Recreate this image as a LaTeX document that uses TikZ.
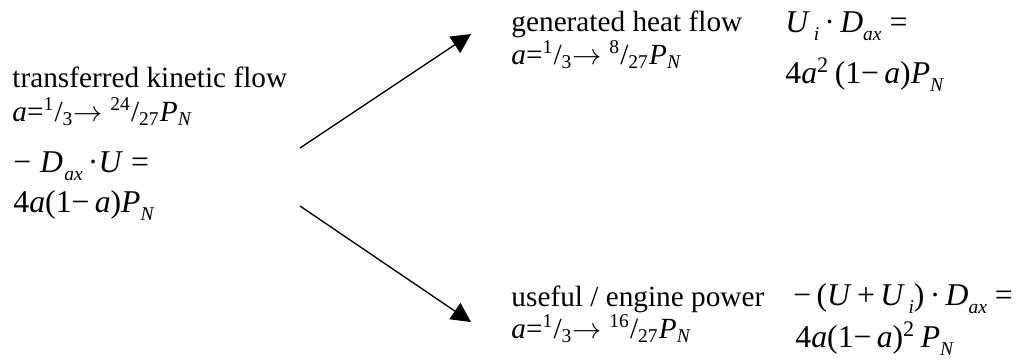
\documentclass[tikz,border=0pt]{standalone}
\usepackage{fontspec}
\setmainfont{Liberation Serif}
\usepackage{tikz}
\usetikzlibrary{arrows.meta}
\newcommand{\vi}[1]{\textit{#1}}
\newcommand{\lo}[1]{\textsubscript{\textit{#1}}}
\newcommand{\dlo}[1]{\raisebox{-0.55ex}{\fontsize{8}{8}\selectfont\textit{#1}}}
\newcommand{\frc}[2]{\textsuperscript{#1}/\textsubscript{#2}}
\newcommand{\goes}{$\rightarrow$}

\begin{document}
\begin{tikzpicture}[x=0.41pt, y=-0.41pt,
      every node/.style={inner sep=0pt, anchor=base west},
      lbl/.style={font=\fontsize{12}{14}\selectfont},
      eqn/.style={font=\fontsize{13}{15}\selectfont},
      flow/.style={-{Triangle[length=8pt, width=8pt]}, line width=0.55pt}]
    \useasboundingbox (0,0) rectangle (1023,363);

    % transferred flow (left)
    \node[lbl] at (12, 87) (src) {transferred kinetic flow};
    \node[lbl] at (12, 121) (srcval) {\vi{a}=\frc{1}{3}\goes\ \frc{24}{27}\vi{P}\lo{N}};
    \node[eqn] at (13, 172) (srceq) {−\;\vi{D}\kern0.5pt\dlo{ax}\,·\vi{U} =};
    \node[eqn] at (13, 212) (srcres) {4\vi{a}(1−\,\vi{a})\vi{P}\dlo{N}};

    % generated heat (top)
    \node[lbl] at (511, 31) (heat) {generated heat flow};
    \node[lbl] at (511, 64) (heatval) {\vi{a}=\frc{1}{3}\goes\ \frc{8}{27}\vi{P}\lo{N}};
    \node[eqn] at (785, 32) (heateq) {\vi{U}\kern1.5pt\dlo{i}\,·\,\vi{D}\dlo{ax} =};
    \node[eqn] at (785, 83) (heatres) {4\vi{a}\textsuperscript{2}\,(1−\,\vi{a})\vi{P}\dlo{N}};

    % useful power (bottom)
    \node[lbl] at (511, 306) (power) {useful / engine power};
    \node[lbl] at (511, 338) (powerval) {\vi{a}=\frc{1}{3}\goes\ \frc{16}{27}\vi{P}\lo{N}};
    \node[eqn] at (793, 305) (powereq) {−\,(\vi{U}\,+\,\vi{U}\kern1.5pt\dlo{i})\,·\,\vi{D}\dlo{ax} =};
    \node[eqn] at (795, 347) (powerres) {4\vi{a}(1−\,\vi{a})\textsuperscript{2}\,\vi{P}\dlo{N}};

    \coordinate (up0) at (300, 148);
    \coordinate (up1) at (471, 34);
    \coordinate (dn0) at (300, 206);
    \coordinate (dn1) at (471, 322);
    \draw[flow] (up0) -- (up1);
    \draw[flow] (dn0) -- (dn1);
  \end{tikzpicture}
\end{document}
